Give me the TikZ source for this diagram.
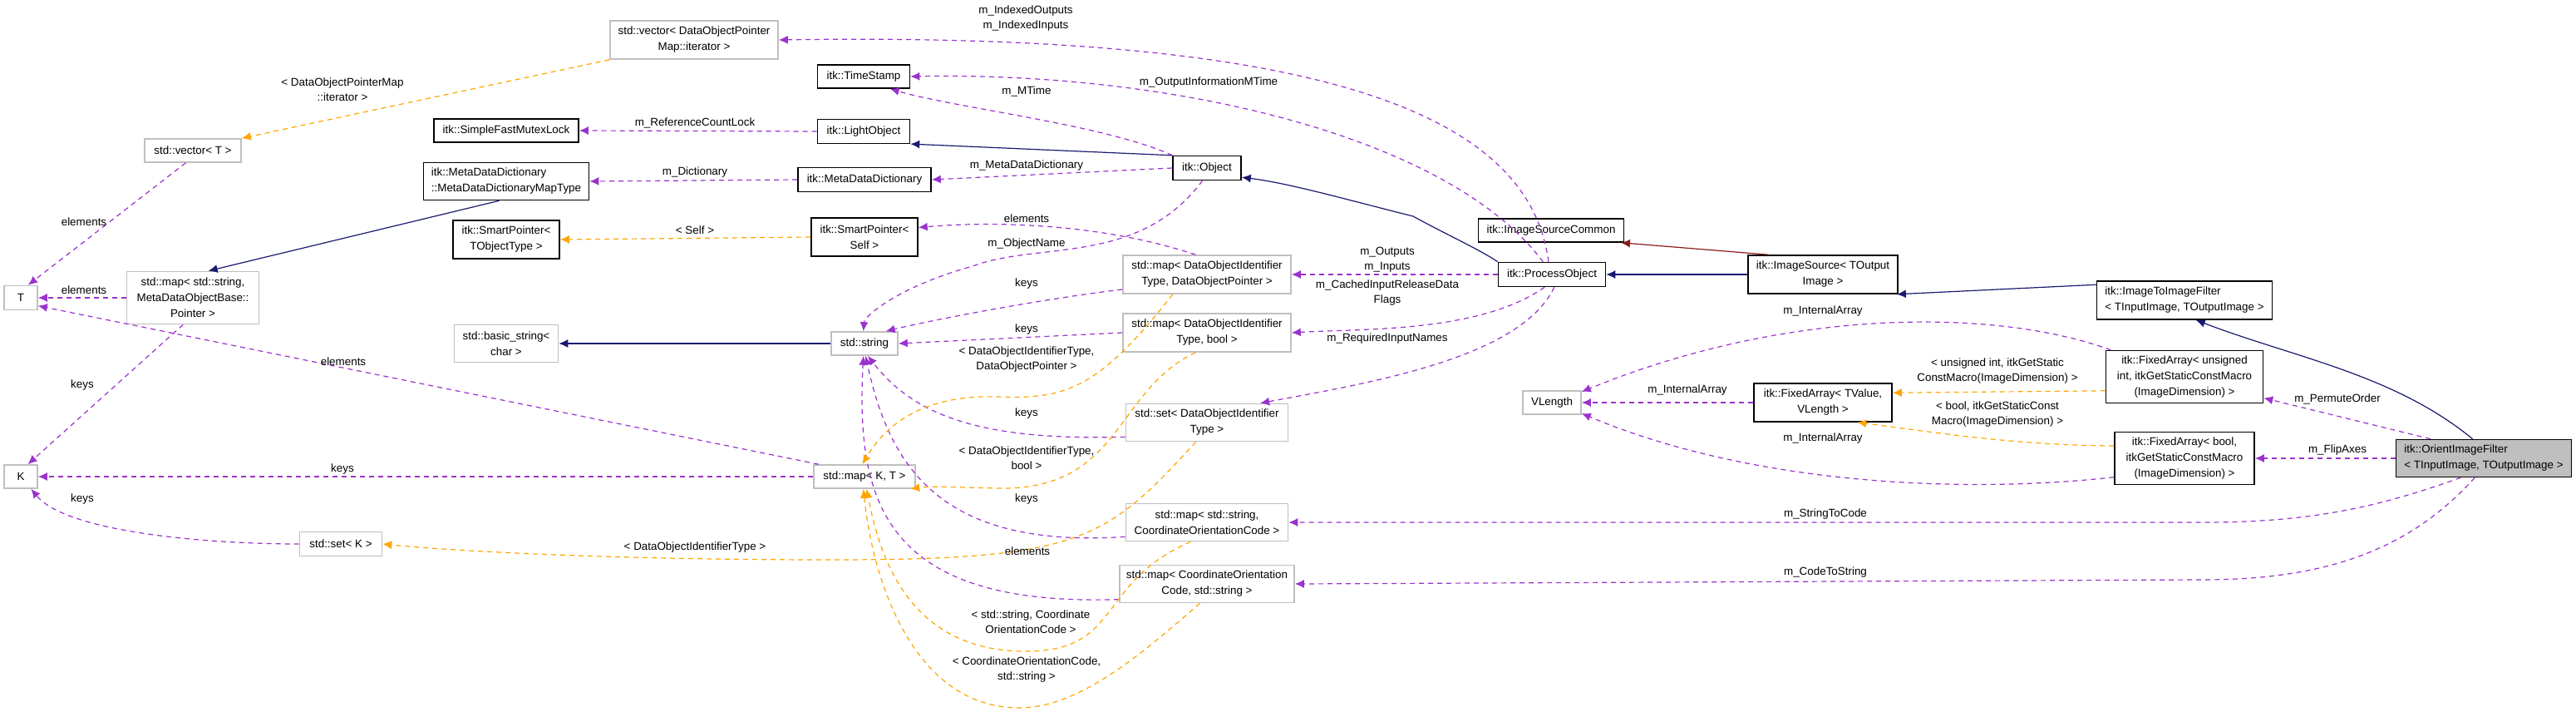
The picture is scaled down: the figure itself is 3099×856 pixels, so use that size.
\documentclass[tikz,border=0pt]{standalone}
\usepackage{fontspec}
\setmainfont{Liberation Sans}
\usetikzlibrary{arrows.meta}
\definecolor{pur}{HTML}{9A32CD}
\definecolor{orn}{HTML}{FFA500}
\definecolor{nav}{HTML}{191970}
\definecolor{drd}{HTML}{8B1A1A}
\definecolor{gb}{HTML}{BFBFBF}
\newcommand{\lt}{\textless{}}
\newcommand{\gt}{\textgreater{}}
\begin{document}
\begin{tikzpicture}[x=0.5pt,y=-0.5pt,font=\fontsize{6.7pt}{9.5pt}\selectfont,
 bx/.style={draw=black,line width=0.8pt,fill=white,align=center,inner sep=1pt},
 gx/.style={draw=gb,line width=0.8pt,fill=white,align=center,inner sep=1pt},
 lbl/.style={align=center,inner sep=0pt,font=\fontsize{6.7pt}{9pt}\selectfont},
 tip/.style={-{Latex[length=5.5pt,width=5pt]}},
 pu/.style={tip,draw=pur,line width=0.6pt,dash pattern=on 3pt off 2.5pt},
 or/.style={tip,draw=orn,line width=0.6pt,dash pattern=on 3pt off 2.5pt},
 inh/.style={tip,draw=nav,line width=0.6pt},
 prot/.style={tip,draw=drd,line width=0.6pt}]
\useasboundingbox (0,0) rectangle (3099,856);
% nodes
\node[gx,minimum width=101pt,minimum height=23pt] (vecDOP) at (835,48) {std::vector\lt{} DataObjectPointer\\Map::iterator \gt};
\node[gx,minimum width=58pt,minimum height=14pt] (vecT) at (232,181) {std::vector\lt{} T \gt};
\node[gx,minimum width=20pt,minimum height=14.5pt] (T) at (25,358) {T};
\node[gx,minimum width=79.5pt,minimum height=31.5pt] (mapMeta) at (232,358) {std::map\lt{} std::string,\\MetaDataObjectBase::\\Pointer \gt};
\node[bx,minimum width=87pt,minimum height=14pt] (SFML) at (609,157) {itk::SimpleFastMutexLock};
\node[bx,minimum width=99.5pt,minimum height=22.5pt,align=left] (MDDMap) at (609,218) {itk::MetaDataDictionary\\::MetaDataDictionaryMapType};
\node[bx,minimum width=64pt,minimum height=23pt] (SPTO) at (609,288) {itk::SmartPointer\lt\\TObjectType \gt};
\node[gx,minimum width=62.5pt,minimum height=22.5pt] (bstr) at (609,413) {std::basic\_string\lt\\char \gt};
\node[gx,minimum width=20pt,minimum height=14pt] (K) at (25,573) {K};
\node[gx,minimum width=49.5pt,minimum height=14.5pt] (setK) at (410,654) {std::set\lt{} K \gt};
\node[bx,minimum width=55.5pt,minimum height=14pt] (TS) at (1039,92) {itk::TimeStamp};
\node[bx,minimum width=55.5pt,minimum height=14.5pt] (LO) at (1039,158) {itk::LightObject};
\node[bx,minimum width=80pt,minimum height=14.5pt] (MDD) at (1040,216) {itk::MetaDataDictionary};
\node[bx,minimum width=64pt,minimum height=23pt] (SPSelf) at (1040,285) {itk::SmartPointer\lt\\Self \gt};
\node[gx,minimum width=40pt,minimum height=14pt] (str) at (1040,413) {std::string};
\node[gx,minimum width=61pt,minimum height=14pt] (mapKT) at (1040,573) {std::map\lt{} K, T \gt};
\node[bx,minimum width=41pt,minimum height=14.5pt] (Obj) at (1452,202) {itk::Object};
\node[gx,minimum width=101pt,minimum height=23pt] (mapDOP) at (1452,330) {std::map\lt{} DataObjectIdentifier\\Type, DataObjectPointer \gt};
\node[gx,minimum width=101pt,minimum height=23pt] (mapBool) at (1452,400) {std::map\lt{} DataObjectIdentifier\\Type, bool \gt};
\node[gx,minimum width=97.5pt,minimum height=22.5pt] (setDOI) at (1452,508) {std::set\lt{} DataObjectIdentifier\\Type \gt};
\node[gx,minimum width=97.5pt,minimum height=22.5pt] (mapSC) at (1452,628) {std::map\lt{} std::string,\\CoordinateOrientationCode \gt};
\node[gx,minimum width=105pt,minimum height=22.5pt] (mapCS) at (1452,702) {std::map\lt{} CoordinateOrientation\\Code, std::string \gt};
\node[bx,minimum width=87.5pt,minimum height=14pt] (ISC) at (1866,277) {itk::ImageSourceCommon};
\node[bx,minimum width=64.5pt,minimum height=14.5pt] (PO) at (1867,330) {itk::ProcessObject};
\node[gx,minimum width=35pt,minimum height=14pt] (VL) at (1867,484) {VLength};
\node[bx,minimum width=90pt,minimum height=23pt] (IS) at (2193,330) {itk::ImageSource\lt{} TOutput\\Image \gt};
\node[bx,minimum width=105.5pt,minimum height=23pt,align=left] (ITI) at (2628,361) {itk::ImageToImageFilter\\\lt{} TInputImage, TOutputImage \gt};
\node[bx,minimum width=94.5pt,minimum height=31.5pt] (FAu) at (2628,453) {itk::FixedArray\lt{} unsigned\\int, itkGetStaticConstMacro\\(ImageDimension) \gt};
\node[bx,minimum width=83pt,minimum height=23pt] (FATV) at (2193,484) {itk::FixedArray\lt{} TValue,\\VLength \gt};
\node[bx,minimum width=84pt,minimum height=31.5pt] (FAb) at (2628,551) {itk::FixedArray\lt{} bool,\\itkGetStaticConstMacro\\(ImageDimension) \gt};
\node[bx,fill=gb,minimum width=105.5pt,minimum height=22.5pt,align=left] (OIF) at (2988,551) {itk::OrientImageFilter\\\lt{} TInputImage, TOutputImage \gt};
% edges
\draw[pu] (PO.105) .. controls (1840,140) and (1600,38) .. (vecDOP.east);
\node[lbl] (l1) at (1234,22) {m\_IndexedOutputs\\m\_IndexedInputs};
\draw[or] (vecDOP.south west) -- (vecT.north east);
\node[lbl] (l2) at (412,108) {\lt{} DataObjectPointerMap\\::iterator \gt};
\draw[pu] (vecT.240) -- (T.60);
\node[lbl] (l3) at (101,267) {elements};
\draw[pu] (mapMeta.west) -- (T.east);
\node[lbl] (l4) at (101,349) {elements};
\draw[pu] (mapKT.165) -- (T.-25);
\node[lbl] (l5) at (413,435) {elements};
\draw[pu] (mapMeta.250) -- (K.60);
\node[lbl] (l6) at (99,463) {keys};
\draw[pu] (mapKT.west) -- (K.east);
\node[lbl] (l7) at (412,564) {keys};
\draw[pu] (setK.west) .. controls (250,654) and (80,640) .. (K.-50);
\node[lbl] (l8) at (99,600) {keys};
\draw[or] (setDOI.240) .. controls (1330,650) and (1300,673) .. (1000,673) .. controls (700,673) and (520,660) .. (setK.east);
\node[lbl] (l9) at (836,658) {\lt{} DataObjectIdentifierType \gt};
\draw[pu] (LO.west) -- (SFML.east);
\node[lbl] (l10) at (836,148) {m\_ReferenceCountLock};
\draw[pu] (MDD.west) -- (MDDMap.east);
\node[lbl] (l11) at (836,207) {m\_Dictionary};
\draw[or] (SPSelf.west) -- (SPTO.east);
\node[lbl] (l12) at (836,277) {\lt{} Self \gt};
\draw[inh] (str.west) -- (bstr.east);
\draw[inh] (MDDMap.250) -- (mapMeta.60);
\draw[pu] (Obj.north west) .. controls (1330,150) and (1150,130) .. (TS.-25);
\node[lbl] (l13) at (1235,110) {m\_MTime};
\draw[pu] (PO.125) .. controls (1740,160) and (1400,86) .. (TS.east);
\node[lbl] (l14) at (1454,99) {m\_OutputInformationMTime};
\draw[inh] (Obj.160) -- (LO.-15);
\draw[pu] (Obj.west) -- (MDD.east);
\node[lbl] (l15) at (1235,199) {m\_MetaDataDictionary};
\draw[pu] (mapDOP.120) .. controls (1330,270) and (1200,265) .. (SPSelf.10);
\node[lbl] (l16) at (1235,263) {elements};
\draw[pu] (Obj.250) .. controls (1370,320) and (1250,290) .. (1170,320) .. controls (1080,345) and (1040,380) .. (str.95);
\node[lbl] (l17) at (1235,293) {m\_ObjectName};
\draw[pu] (mapDOP.-170) .. controls (1250,360) and (1120,385) .. (str.30);
\node[lbl] (l18) at (1235,341) {keys};
\draw[pu] (mapBool.west) -- (str.east);
\node[lbl] (l19) at (1235,396) {keys};
\draw[pu] (setDOI.-170) .. controls (1180,530) and (1100,500) .. (str.-75);
\node[lbl] (l20) at (1235,497) {keys};
\draw[pu] (mapSC.-170) .. controls (1130,660) and (1070,560) .. (str.-85);
\node[lbl] (l21) at (1235,600) {keys};
\draw[pu] (mapCS.-170) .. controls (1060,730) and (1030,600) .. (str.-95);
\node[lbl] (l22) at (1236,663) {elements};
\draw[or] (mapDOP.-150) .. controls (1320,470) and (1280,480) .. (1200,477) .. controls (1100,474) and (1060,520) .. (mapKT.100);
\node[lbl] (l23) at (1235,432) {\lt{} DataObjectIdentifierType,\\DataObjectPointer \gt};
\draw[or] (mapBool.-120) .. controls (1340,470) and (1350,590) .. (1200,587) .. controls (1150,586) and (1120,584) .. (mapKT.-15);
\node[lbl] (l24) at (1235,551) {\lt{} DataObjectIdentifierType,\\bool \gt};
\draw[or] (mapSC.-130) .. controls (1320,700) and (1350,780) .. (1240,783) .. controls (1100,786) and (1060,680) .. (mapKT.-80);
\node[lbl] (l25) at (1240,748) {\lt{} std::string, Coordinate\\OrientationCode \gt};
\draw[or] (mapCS.-110) .. controls (1380,780) and (1300,852) .. (1225,851) .. controls (1100,850) and (1050,700) .. (mapKT.-95);
\node[lbl] (l26) at (1235,805) {\lt{} CoordinateOrientationCode,\\std::string \gt};
\draw[inh] (PO.north west) .. controls (1780,300) and (1740,282) .. (1700,260) .. controls (1620,240) and (1550,220) .. (Obj.-15);
\draw[pu] (PO.west) -- (mapDOP.east);
\node[lbl] (l27) at (1669,312) {m\_Outputs\\m\_Inputs};
\draw[pu] (PO.-120) .. controls (1780,400) and (1640,395) .. (mapBool.east);
\node[lbl] (l28) at (1669,352) {m\_CachedInputReleaseData\\Flags};
\draw[pu] (PO.-80) .. controls (1830,430) and (1650,460) .. (setDOI.20);
\node[lbl] (l29) at (1669,407) {m\_RequiredInputNames};
\draw[inh] (IS.west) -- (PO.east);
\draw[prot] (IS.160) -- (ISC.-10);
\draw[inh] (ITI.170) -- (IS.-15);
\draw[inh] (OIF.120) .. controls (2880,450) and (2760,430) .. (ITI.-60);
\draw[pu] (FAu.160) .. controls (2400,370) and (2150,370) .. (VL.20);
\node[lbl] (l30) at (2193,374) {m\_InternalArray};
\draw[pu] (FATV.west) -- (VL.east);
\node[lbl] (l31) at (2030,469) {m\_InternalArray};
\draw[pu] (FAb.-165) .. controls (2350,595) and (2100,580) .. (VL.-20);
\node[lbl] (l32) at (2193,527) {m\_InternalArray};
\draw[or] (FAu.-170) -- (FATV.8);
\node[lbl] (l33) at (2403,446) {\lt{} unsigned int, itkGetStatic\\ConstMacro(ImageDimension) \gt};
\draw[or] (FAb.170) .. controls (2420,535) and (2330,520) .. (FATV.-30);
\node[lbl] (l34) at (2403,498) {\lt{} bool, itkGetStaticConst\\Macro(ImageDimension) \gt};
\draw[pu] (OIF.160) -- (FAu.-15);
\node[lbl] (l35) at (2812,480) {m\_PermuteOrder};
\draw[pu] (OIF.west) -- (FAb.east);
\node[lbl] (l36) at (2812,541) {m\_FlipAxes};
\draw[pu] (OIF.-140) .. controls (2860,610) and (2780,628) .. (2650,628) -- (mapSC.east);
\node[lbl] (l37) at (2196,618) {m\_StringToCode};
\draw[pu] (OIF.-115) .. controls (2900,660) and (2800,697) .. (2650,697) -- (mapCS.east);
\node[lbl] (l38) at (2196,688) {m\_CodeToString};
\end{tikzpicture}
\end{document}
